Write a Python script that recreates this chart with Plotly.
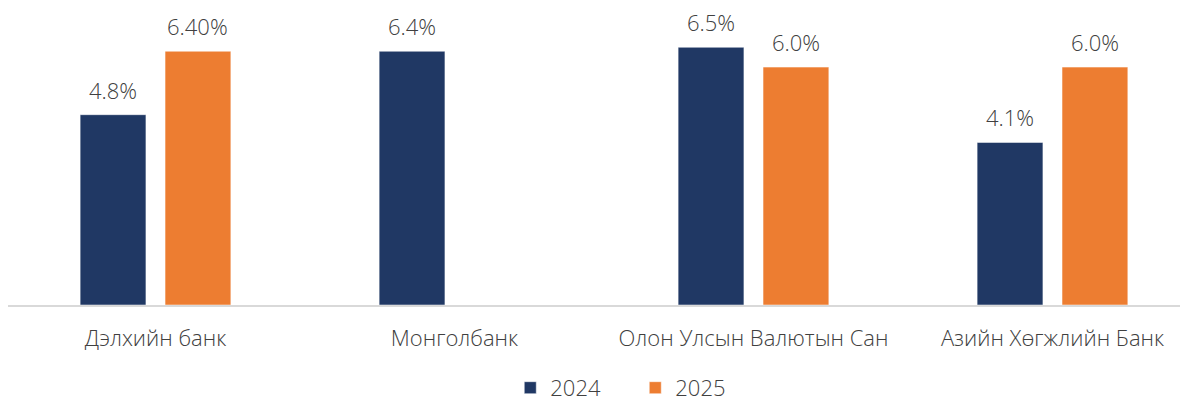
import plotly.graph_objects as go

categories = ["Дэлхийн банк", "Монголбанк", "Олон Улсын Валютын Сан", "Азийн Хөгжлийн Банк"]
values_2024 = [4.8, 6.4, 6.5, 4.1]
values_2025 = [6.4, None, 6.0, 6.0]
labels_2024 = ["4.8%", "6.4%", "6.5%", "4.1%"]
labels_2025 = ["6.40%", "", "6.0%", "6.0%"]

navy = "#203864"
orange = "#ED7D31"
txt = "#404040"
font_family = "Open Sans, Noto Sans, sans-serif"

bargap = 0.432
bargroupgap = 0.225

fig = go.Figure()
fig.add_trace(go.Bar(x=categories, y=values_2024, name="2024",
                     marker=dict(color=navy, line=dict(color="white", width=0.5))))
fig.add_trace(go.Bar(x=categories, y=values_2025, name="2025",
                     marker=dict(color=orange, line=dict(color="white", width=0.5))))

# labels above bars
slot = (1 - bargap) / 2
offsets = [-slot / 2, slot / 2]
for off, vals, labs in [(offsets[0], values_2024, labels_2024), (offsets[1], values_2025, labels_2025)]:
    for i, (v, lab) in enumerate(zip(vals, labs)):
        if v is None or not lab:
            continue
        fig.add_annotation(x=i + off, y=v, text=lab, showarrow=False,
                           xref="x", yref="y", yanchor="bottom", yshift=9, borderpad=0,
                           font=dict(size=22, color=txt, family=font_family, weight=300))

fig.update_layout(
    width=1188, height=400,
    margin=dict(l=0, r=0, t=2, b=103, autoexpand=False),
    paper_bgcolor="white", plot_bgcolor="white",
    barmode="group", bargap=bargap, bargroupgap=bargroupgap,
    font=dict(family=font_family, color=txt, size=22, weight=300),
    showlegend=True,
    legend=dict(orientation="h", x=0.528, xanchor="center", y=-0.281, yanchor="middle",
                font=dict(size=22, color=txt, weight=300), entrywidth=80, traceorder="normal"),
)
fig.update_xaxes(range=[-0.4933, 3.480], showline=True, linecolor="#D9D9D9", linewidth=2,
                 ticks="", tickfont=dict(size=22, color=txt, weight=300), ticklabelstandoff=13,
                 showgrid=False, zeroline=False)
fig.update_yaxes(range=[0, 7.44], showticklabels=False, showgrid=False, zeroline=False,
                 showline=False)

fig.write_html("out.html")
